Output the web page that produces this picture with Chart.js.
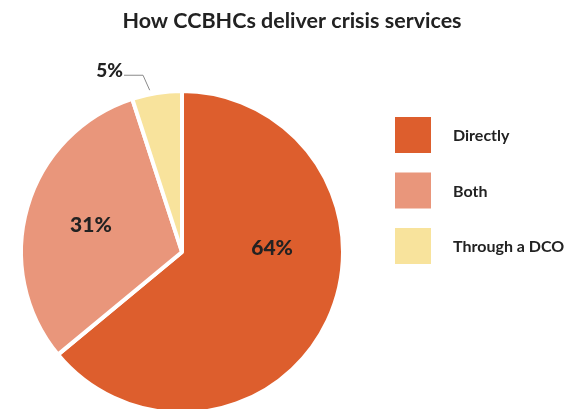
<!DOCTYPE html>
<html>
<head>
<meta charset="utf-8">
<script src="https://cdn.jsdelivr.net/npm/chart.js@4/dist/chart.umd.min.js"></script>
<style>
    html, body { margin: 0; padding: 0; background: #fff; }
    #wrap { width: 576px; height: 409px; overflow: hidden; position: relative; }
    canvas { display: block; }
</style>
</head>
<body>
<div id="wrap">
    <canvas id="pieChart" width="576" height="420"></canvas>
</div>
<script>
// chart data
const categories = ['Directly', 'Both', 'Through a DCO'];
const shares = [64, 31, 5];
const sliceColors = ['#dd5e2d', '#e9967b', '#f8e39c'];
const valueLabels = ['64%', '31%', '5%'];
const chartTitle = 'How CCBHCs deliver crisis services';

const textColor = '#222222';
const fontFamily = 'Lato, "Open Sans", sans-serif';

// where each percent label sits: angle from top (deg, clockwise) and distance as share of radius
// null = placed outside with a leader line
const labelPlacement = [
    { angle: 87.5, r: 0.56 },
    { angle: 286.5, r: 0.59 },
    null
];

// title centred over the whole figure, not just the pie area
const figureTitle = {
    id: 'figureTitle',
    afterDraw(chart) {
        const ctx = chart.ctx;
        ctx.save();
        ctx.fillStyle = textColor;
        ctx.font = 'bold 21.5px ' + fontFamily;
        ctx.textAlign = 'center';
        ctx.textBaseline = 'alphabetic';
        ctx.fillText(chartTitle, 292, 28);
        ctx.restore();
    }
};

// draws slice labels + the leader line for the small slice
const sliceLabels = {
    id: 'sliceLabels',
    afterDatasetsDraw(chart) {
        const ctx = chart.ctx;
        const meta = chart.getDatasetMeta(0);
        ctx.save();
        ctx.fillStyle = textColor;
        ctx.textBaseline = 'middle';
        meta.data.forEach((arc, i) => {
            const { x, y, outerRadius, startAngle, endAngle } = arc.getProps(['x', 'y', 'outerRadius', 'startAngle', 'endAngle'], true);
            const place = labelPlacement[i];
            if (place) {
                const a = (place.angle - 90) * Math.PI / 180;
                ctx.textAlign = 'center';
                ctx.font = '900 21px ' + fontFamily;
                ctx.fillText(valueLabels[i], x + Math.cos(a) * outerRadius * place.r, y + Math.sin(a) * outerRadius * place.r);
            } else {
                const mid = (startAngle + endAngle) / 2 - 0.04;
                const p0 = { x: x + Math.cos(mid) * (outerRadius + 4), y: y + Math.sin(mid) * (outerRadius + 4) };
                const p1 = { x: x + Math.cos(mid - 0.02) * (outerRadius + 20), y: y + Math.sin(mid - 0.02) * (outerRadius + 20) };
                const p2 = { x: p1.x - 19, y: p1.y };
                ctx.strokeStyle = '#8a8a8a';
                ctx.lineWidth = 1;
                ctx.beginPath();
                ctx.moveTo(p0.x, p0.y);
                ctx.lineTo(p1.x, p1.y);
                ctx.lineTo(p2.x, p2.y);
                ctx.stroke();
                ctx.textAlign = 'right';
                ctx.font = '900 19px ' + fontFamily;
                ctx.fillText(valueLabels[i], p2.x - 1, p2.y - 4);
            }
        });
        ctx.restore();
    }
};

// big square legend on the right
const squareLegend = {
    id: 'squareLegend',
    afterDraw(chart) {
        const ctx = chart.ctx;
        const boxX = 395, boxY = 117, boxSize = 36, step = 55.5;
        ctx.save();
        ctx.font = 'bold 16px ' + fontFamily;
        ctx.textBaseline = 'middle';
        ctx.textAlign = 'left';
        chart.data.labels.forEach((label, i) => {
            const top = boxY + i * step;
            ctx.fillStyle = chart.data.datasets[0].backgroundColor[i];
            ctx.fillRect(boxX, top, boxSize, boxSize);
            ctx.fillStyle = textColor;
            ctx.fillText(label, 453, top + boxSize / 2 + 1);
        });
        ctx.restore();
    }
};

new Chart(document.getElementById('pieChart'), {
    type: 'pie',
    data: {
        labels: categories,
        datasets: [{
            data: shares,
            backgroundColor: sliceColors,
            borderColor: '#ffffff',
            borderWidth: 4,
            hoverOffset: 0
        }]
    },
    options: {
        responsive: false,
        animation: false,
        radius: 161,
        layout: {
            padding: { left: 22, right: 234, top: 92, bottom: 8 }
        },
        plugins: {
            legend: { display: false },
            tooltip: { enabled: false },
            title: { display: false }
        }
    },
    plugins: [figureTitle, sliceLabels, squareLegend]
});
</script>
</body>
</html>
